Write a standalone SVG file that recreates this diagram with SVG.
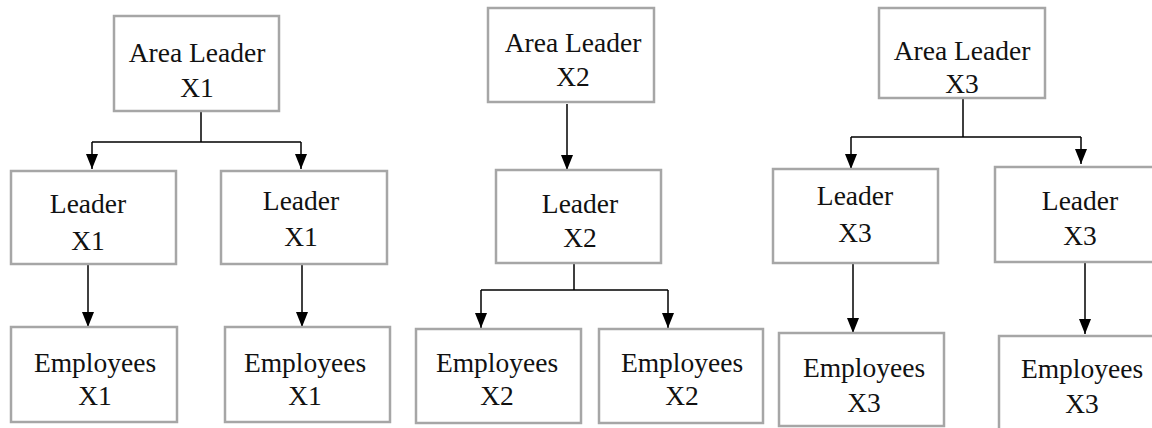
<svg xmlns="http://www.w3.org/2000/svg" width="1152" height="428" viewBox="0 0 1152 428">
<style>
.box{fill:#ffffff;stroke:#a6a6a6;stroke-width:2.5}
.t{font-family:"Liberation Serif","Times New Roman",serif;font-size:27.5px;fill:#111111;text-anchor:middle}
.c{fill:none;stroke:#000000;stroke-width:1.5}
</style>
<defs>
<marker id="ah" markerUnits="userSpaceOnUse" markerWidth="15" markerHeight="12" viewBox="0 0 15 12" refX="15" refY="6" orient="auto">
<path d="M0,0 L15,6 L0,12 Z" fill="#000000"/>
</marker>
</defs>
<rect width="1152" height="428" fill="#ffffff"/>
<g id="connectors">
<path class="c" d="M201,111 V142 M92,142 H301"/>
<path class="c" d="M92,142 V169" marker-end="url(#ah)"/>
<path class="c" d="M301,142 V169" marker-end="url(#ah)"/>
<path class="c" d="M88,264 V327" marker-end="url(#ah)"/>
<path class="c" d="M302,264 V327" marker-end="url(#ah)"/>
<path class="c" d="M567,104 V170" marker-end="url(#ah)"/>
<path class="c" d="M574,263 V290 M481,290 H668"/>
<path class="c" d="M481,290 V328" marker-end="url(#ah)"/>
<path class="c" d="M668,290 V328" marker-end="url(#ah)"/>
<path class="c" d="M963,98 V137 M851,137 H1081"/>
<path class="c" d="M851,137 V169" marker-end="url(#ah)"/>
<path class="c" d="M1081,137 V164" marker-end="url(#ah)"/>
<path class="c" d="M853,263 V333" marker-end="url(#ah)"/>
<path class="c" d="M1085,262 V334" marker-end="url(#ah)"/>
</g>
<g id="area1"><rect class="box" x="114" y="16" width="165" height="95"/><text class="t" x="197" y="62">Area Leader</text><text class="t" x="197" y="97">X1</text></g>
<g id="leader1a"><rect class="box" x="11" y="171" width="165" height="93"/><text class="t" x="88" y="213">Leader</text><text class="t" x="88" y="250">X1</text></g>
<g id="leader1b"><rect class="box" x="221" y="171" width="166" height="93"/><text class="t" x="301" y="210">Leader</text><text class="t" x="301" y="246">X1</text></g>
<g id="emp1a"><rect class="box" x="11" y="327" width="166" height="95"/><text class="t" x="95" y="372">Employees</text><text class="t" x="95" y="405">X1</text></g>
<g id="emp1b"><rect class="box" x="225" y="327" width="165" height="95"/><text class="t" x="305" y="372">Employees</text><text class="t" x="305" y="405">X1</text></g>
<g id="area2"><rect class="box" x="488" y="8" width="166" height="94"/><text class="t" x="573" y="52">Area Leader</text><text class="t" x="573" y="86">X2</text></g>
<g id="leader2"><rect class="box" x="496" y="170" width="165" height="93"/><text class="t" x="580" y="213">Leader</text><text class="t" x="580" y="247">X2</text></g>
<g id="emp2a"><rect class="box" x="416" y="329" width="165" height="94"/><text class="t" x="497" y="372">Employees</text><text class="t" x="497" y="405">X2</text></g>
<g id="emp2b"><rect class="box" x="599" y="329" width="164" height="94"/><text class="t" x="682" y="372">Employees</text><text class="t" x="682" y="405">X2</text></g>
<g id="area3"><rect class="box" x="879" y="8" width="166" height="90"/><text class="t" x="962" y="60">Area Leader</text><text class="t" x="962" y="93">X3</text></g>
<g id="leader3a"><rect class="box" x="773" y="169" width="165" height="94"/><text class="t" x="855" y="205">Leader</text><text class="t" x="855" y="242">X3</text></g>
<g id="leader3b"><rect class="box" x="995" y="167" width="170" height="95"/><text class="t" x="1080" y="210">Leader</text><text class="t" x="1080" y="245">X3</text></g>
<g id="emp3a"><rect class="box" x="779" y="333" width="165" height="93"/><text class="t" x="864" y="377">Employees</text><text class="t" x="864" y="412">X3</text></g>
<g id="emp3b"><rect class="box" x="999" y="336" width="170" height="100"/><text class="t" x="1082" y="378">Employees</text><text class="t" x="1082" y="413">X3</text></g>
</svg>
